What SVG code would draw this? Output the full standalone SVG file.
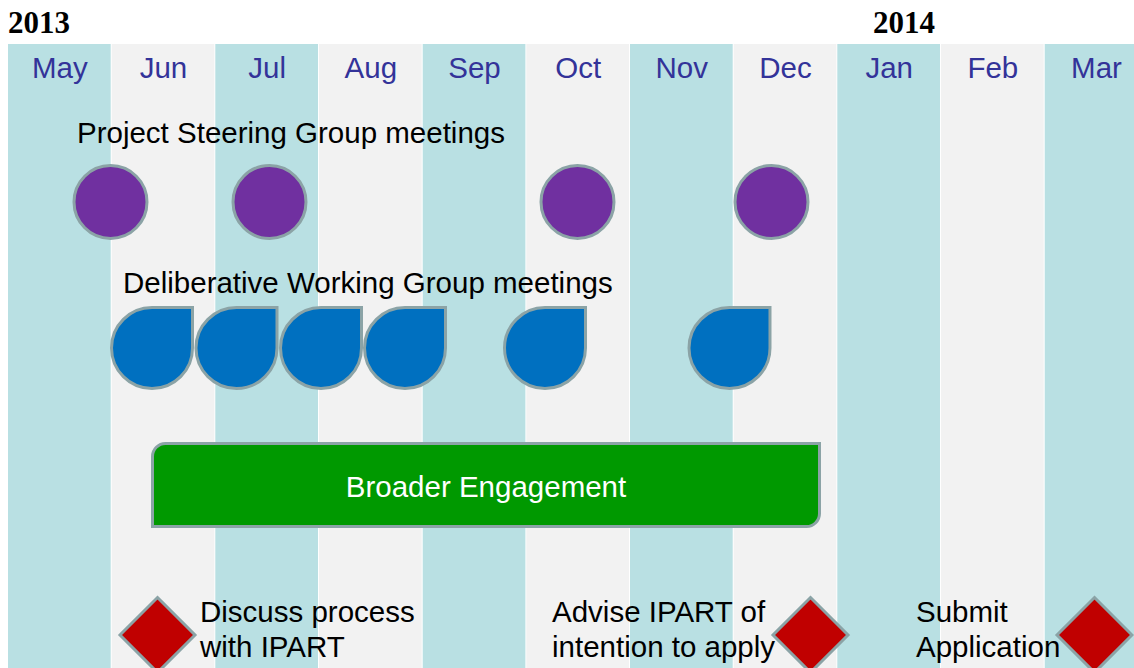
<svg xmlns="http://www.w3.org/2000/svg" width="1134" height="668" viewBox="0 0 1134 668">
<style>
.t{fill:#B9E0E3}
.l{fill:#F2F2F2}
.m{font-family:"Liberation Sans",Arial,sans-serif;font-size:29.5px;fill:#333399;text-anchor:middle}
.yr{font-family:"Liberation Serif","Times New Roman",serif;font-size:31px;font-weight:bold;fill:#000}
.lbl{font-family:"Liberation Sans",Arial,sans-serif;font-size:29.5px;fill:#000}
.psg{fill:#7030A0;stroke:#8BA3A6;stroke-width:3}
.dwg{fill:#0070C0;stroke:#8BA3A6;stroke-width:3}
.ms{fill:#C00000;stroke:#8BA3A6;stroke-width:3}
</style>
<rect width="1134" height="668" fill="#fff"/>
<g id="columns">
<rect class="t" x="8" y="44" width="102.7" height="624"/>
<rect class="l" x="111.7" y="44" width="102.7" height="624"/>
<rect class="t" x="215.3" y="44" width="102.7" height="624"/>
<rect class="l" x="319" y="44" width="102.7" height="624"/>
<rect class="t" x="422.7" y="44" width="102.7" height="624"/>
<rect class="l" x="526.3" y="44" width="102.7" height="624"/>
<rect class="t" x="630" y="44" width="102.7" height="624"/>
<rect class="l" x="733.7" y="44" width="102.7" height="624"/>
<rect class="t" x="837.3" y="44" width="102.7" height="624"/>
<rect class="l" x="941" y="44" width="102.7" height="624"/>
<rect class="t" x="1044.7" y="44" width="102.7" height="624"/>
</g>
<g id="years">
<text class="yr" x="8" y="33">2013</text>
<text class="yr" x="873" y="33">2014</text>
</g>
<g id="months">
<text class="m" x="59.8" y="78">May</text>
<text class="m" x="163.5" y="78">Jun</text>
<text class="m" x="267.2" y="78">Jul</text>
<text class="m" x="370.8" y="78">Aug</text>
<text class="m" x="474.5" y="78">Sep</text>
<text class="m" x="578.2" y="78">Oct</text>
<text class="m" x="681.8" y="78">Nov</text>
<text class="m" x="785.5" y="78">Dec</text>
<text class="m" x="889.2" y="78">Jan</text>
<text class="m" x="992.8" y="78">Feb</text>
<text class="m" x="1096.5" y="78">Mar</text>
</g>
<g id="psg-label"><text class="lbl" x="77" y="143">Project Steering Group meetings</text></g>
<g id="psg1"><circle class="psg" cx="110.5" cy="202" r="36.5"/></g>
<g id="psg2"><circle class="psg" cx="269.5" cy="202" r="36.5"/></g>
<g id="psg3"><circle class="psg" cx="577.5" cy="202" r="36.5"/></g>
<g id="psg4"><circle class="psg" cx="771.5" cy="202" r="36.5"/></g>
<g id="dwg-label"><text class="lbl" x="123" y="293">Deliberative Working Group meetings</text></g>
<g id="dwg1"><path class="dwg" d="M152,307.5 H192.5 V348 A40.5,40.5 0 1 1 152,307.5 Z"/></g>
<g id="dwg2"><path class="dwg" d="M236.5,307.5 H277 V348 A40.5,40.5 0 1 1 236.5,307.5 Z"/></g>
<g id="dwg3"><path class="dwg" d="M321,307.5 H361.5 V348 A40.5,40.5 0 1 1 321,307.5 Z"/></g>
<g id="dwg4"><path class="dwg" d="M405,307.5 H445.5 V348 A40.5,40.5 0 1 1 405,307.5 Z"/></g>
<g id="dwg5"><path class="dwg" d="M545,307.5 H585.5 V348 A40.5,40.5 0 1 1 545,307.5 Z"/></g>
<g id="dwg6"><path class="dwg" d="M729.5,307.5 H770 V348 A40.5,40.5 0 1 1 729.5,307.5 Z"/></g>
<g id="broader">
<path d="M165.5,443.5 H819.5 V513.5 A13,13 0 0 1 806.5,526.5 H152.5 V456.5 A13,13 0 0 1 165.5,443.5 Z" fill="#009900" stroke="#8BA3A6" stroke-width="3"/>
<text x="486" y="497" font-family="'Liberation Sans',Arial,sans-serif" font-size="29.5" fill="#fff" text-anchor="middle">Broader Engagement</text>
</g>
<g id="m1">
<path class="ms" d="M157.5,597.5 L195,635 L157.5,672.5 L120,635 Z"/>
<text class="lbl" x="200" y="622">Discuss process</text>
<text class="lbl" x="200" y="657">with IPART</text>
</g>
<g id="m2">
<text class="lbl" x="552" y="622">Advise IPART of</text>
<text class="lbl" x="552" y="657">intention to apply</text>
<path class="ms" d="M810.5,597.5 L848,635 L810.5,672.5 L773,635 Z"/>
</g>
<g id="m3">
<text class="lbl" x="916" y="622">Submit</text>
<text class="lbl" x="916" y="657">Application</text>
<path class="ms" d="M1094.5,597.5 L1132,635 L1094.5,672.5 L1057,635 Z"/>
</g>
<g id="connectors"></g>
</svg>
